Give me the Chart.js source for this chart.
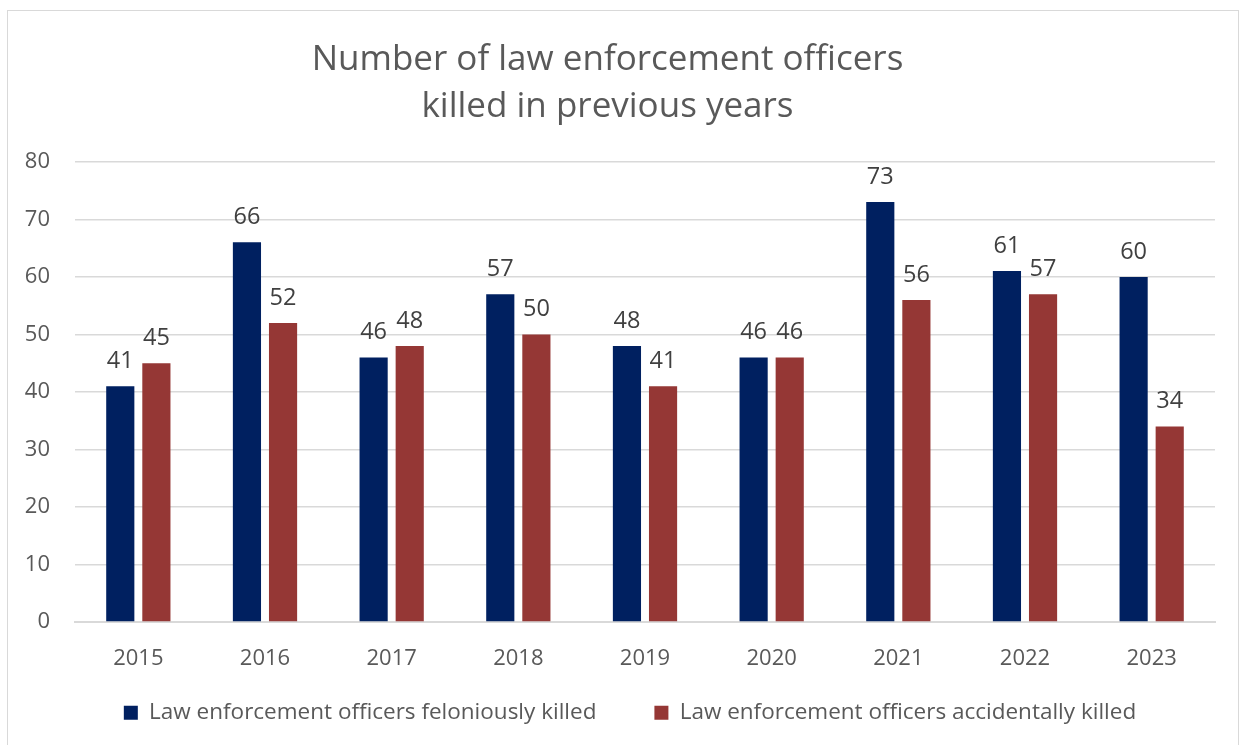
<!DOCTYPE html>
<html>
<head>
<meta charset="utf-8">
<script src="https://cdn.jsdelivr.net/npm/chart.js@4"></script>
<style>
  body { margin: 0; background: #fff; }
  #wrap { position: relative; width: 1244px; height: 745px; overflow: hidden; }
  #frame { position: absolute; left: 7px; top: 10px; width: 1230px; height: 760px; border: 1px solid #d9d9d9; }
  canvas { position: absolute; left: 0; top: 0; }
</style>
</head>
<body>
<div id="wrap">
  <div id="frame"></div>
  <canvas id="chart" width="1244" height="745"></canvas>
</div>
<script>
const years = ["2015", "2016", "2017", "2018", "2019", "2020", "2021", "2022", "2023"];
const feloniously = [41, 66, 46, 57, 48, 46, 73, 61, 60];
const accidentally = [45, 52, 48, 50, 41, 46, 56, 57, 34];
const yTicks = [0, 10, 20, 30, 40, 50, 60, 70, 80];

const textColor = "#595959";
const fontFamily = "'Open Sans', 'Noto Sans', sans-serif";
const legendLift = 43; // legend padding is wide between items, pull the row up
const legendNudge = 45; // centre the row a bit to the right, like the original

// draws the value above each bar
const valueLabels = {
  id: "valueLabels",
  afterDatasetsDraw(chart) {
    const ctx = chart.ctx;
    ctx.save();
    ctx.font = "23.5px " + fontFamily;
    ctx.fillStyle = "#404040";
    ctx.textAlign = "center";
    ctx.textBaseline = "alphabetic";
    chart.data.datasets.forEach((ds, i) => {
      chart.getDatasetMeta(i).data.forEach((bar, j) => {
        ctx.fillText(ds.data[j], bar.x, bar.y - 18);
      });
    });
    ctx.restore();
  }
};

// shrink legend box height and draw the row higher
const legendShift = {
  id: "legendShift",
  beforeLayout(chart) {
    const legend = chart.legend;
    if (!legend || legend._shifted) return;
    legend._shifted = true;
    const fit = legend.fit;
    legend.fit = function () {
      fit.call(this);
      this.height -= legendLift;
    };
    const draw = legend.draw;
    legend.draw = function () {
      const top = this.top, left = this.left;
      this.top = top - legendLift;
      this.left = left + legendNudge;
      draw.call(this);
      this.top = top;
      this.left = left;
    };
  }
};

new Chart(document.getElementById("chart"), {
  type: "bar",
  data: {
    labels: years,
    datasets: [
      { label: "Law enforcement officers feloniously killed", data: feloniously, backgroundColor: "#002060" },
      { label: "Law enforcement officers accidentally killed", data: accidentally, backgroundColor: "#953735" }
    ]
  },
  options: {
    responsive: false,
    animation: false,
    datasets: { bar: { categoryPercentage: 0.57, barPercentage: 0.78 } },
    layout: { padding: { left: 0, right: 29, top: 0, bottom: 11 } },
    plugins: {
      title: {
        display: true,
        text: ["Number of law enforcement officers", "killed in previous years"],
        color: textColor,
        font: { family: fontFamily, size: 35, weight: "normal", lineHeight: 1.34 },
        padding: { top: 37, bottom: 31 }
      },
      legend: {
        position: "bottom",
        labels: {
          color: textColor,
          font: { family: fontFamily, size: 22.5 },
          boxWidth: 14,
          boxHeight: 14,
          padding: 58
        }
      },
      tooltip: { enabled: false }
    },
    scales: {
      x: {
        grid: { display: false },
        border: { display: true, color: "#d9d9d9", width: 2 },
        ticks: { color: textColor, font: { family: fontFamily, size: 22 }, padding: 15 }
      },
      y: {
        min: 0,
        max: 80,
        afterFit(scale) { scale.width = 75; },
        afterBuildTicks(scale) { scale.ticks = yTicks.map(v => ({ value: v })); },
        grid: { color: "#d9d9d9", lineWidth: 1.5, drawTicks: false },
        border: { display: false },
        ticks: { color: textColor, font: { family: fontFamily, size: 22 }, padding: 25 }
      }
    }
  },
  plugins: [valueLabels, legendShift]
});
</script>
</body>
</html>
